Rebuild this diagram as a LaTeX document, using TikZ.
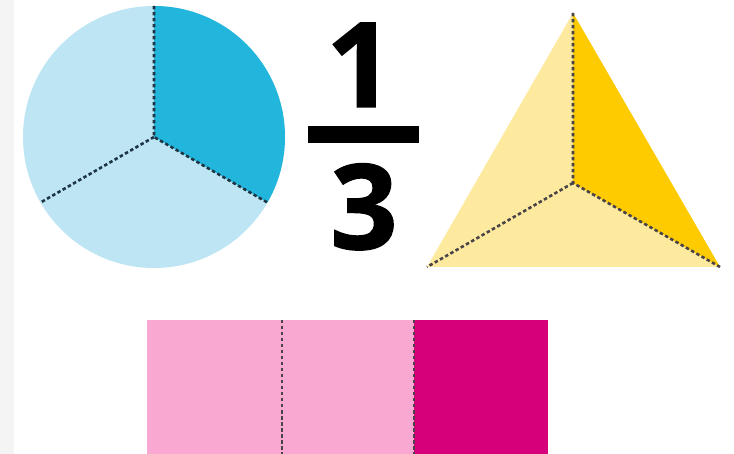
\documentclass[tikz,border=0pt]{standalone}
\usepackage{fontspec}
\setmainfont{Open Sans}
\newfontfamily\digitfont[FakeBold=1.2]{Open Sans}
\usetikzlibrary{calc}
\definecolor{lblue}{HTML}{BEE5F3}
\definecolor{dblue}{HTML}{22B6DD}
\definecolor{lyel}{HTML}{FEEA9E}
\definecolor{dyel}{HTML}{FDCB00}
\definecolor{lpink}{HTML}{F9A8D2}
\definecolor{dpink}{HTML}{D6007A}
\definecolor{navy}{HTML}{1E3644}
\definecolor{dgray}{HTML}{4A4448}
\definecolor{strip}{HTML}{F4F4F4}
\tikzset{
  divline/.style={line width=2.6pt, dash pattern=on 3.5pt off 2.5pt},
  digit/.style={font=\digitfont\bfseries\fontsize{118}{118}\selectfont, inner sep=0pt, anchor=base},
}
\begin{document}
\begin{tikzpicture}[x=1pt,y=-1pt]
\useasboundingbox (0,0) rectangle (734,454);
\fill[white] (0,0) rectangle (734,454);
\fill[strip] (0,0) rectangle (14,454);
% circle
\coordinate (cc) at (154,137);
\fill[lblue] (cc) circle (131);
\fill[dblue] (cc) -- ++(0,-131) arc[start angle=-90, end angle=30, radius=131] -- cycle;
\coordinate (ctop) at (154,6);
\coordinate (cr) at ($(cc)+(113.4,65.5)$);
\coordinate (cl) at ($(cc)+(-113.4,65.5)$);
\draw[divline, navy] (ctop) -- (cc) -- (cr);
\draw[divline, navy] (cc) -- (cl);
% fraction
\node[digit] (one) at (360,107) {1};
\fill (308,126) rectangle (419,143);
\node[digit] (three) at (364,249) {3};
% triangle
\coordinate (ta) at (573,13);
\coordinate (tl) at (427,267);
\coordinate (tr) at (720,267);
\coordinate (tc) at (573,183);
\fill[lyel] (ta) -- (tl) -- (tr) -- cycle;
\fill[dyel] (ta) -- (tc) -- (tr) -- cycle;
\draw[divline, dgray] (ta) -- (tc) -- (tr);
\draw[divline, dgray] (tc) -- (tl);
% rectangle
\fill[lpink] (147,320) rectangle (414,454);
\fill[dpink] (414,320) rectangle (548,454);
\coordinate (r1t) at (282,320);
\coordinate (r1b) at (282,454);
\coordinate (r2t) at (414,320);
\coordinate (r2b) at (414,454);
\draw[line width=2.2pt, dash pattern=on 3.5pt off 2.5pt, dgray] (r1t) -- (r1b);
\draw[line width=2.2pt, dash pattern=on 3.5pt off 2.5pt, dgray] (r2t) -- (r2b);
\end{tikzpicture}
\end{document}
